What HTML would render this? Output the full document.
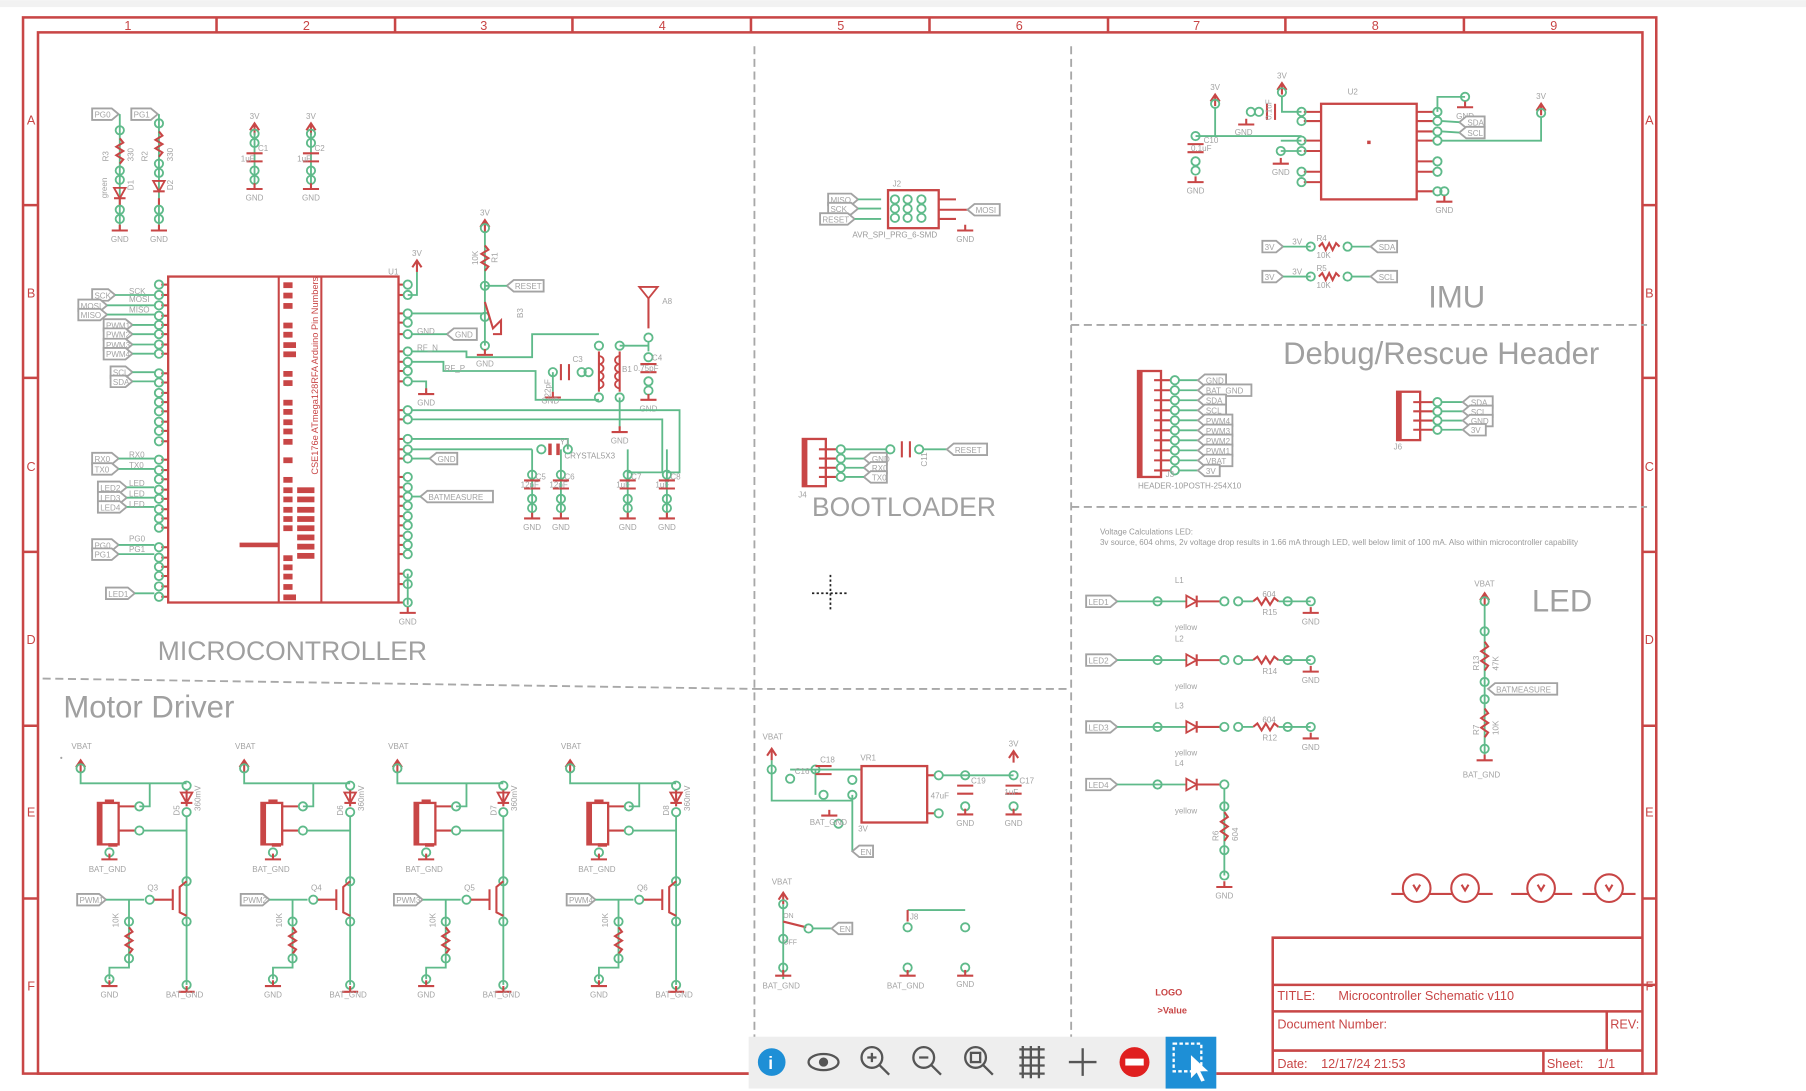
<!DOCTYPE html>
<html><head><meta charset="utf-8"><style>
html,body{margin:0;padding:0;background:#fff;overflow:hidden}
svg{display:block}
text{font-family:"Liberation Sans",sans-serif}
.g{fill:#9a9a9a;font-size:7px}
.r{fill:#c84646}
</style></head><body>
<svg id="s" width="1806" height="1091" viewBox="0 0 1568 947" xmlns="http://www.w3.org/2000/svg">
<rect x="0" y="0" width="1568" height="6" fill="#f2f2f2"/>
<g fill="none" stroke="#c84646" stroke-width="2.2">
<rect x="20" y="15" width="1418" height="917"/>
<rect x="33" y="28" width="1393" height="904"/>
<path d="M188 15V28M343 15V28M497 15V28M652 15V28M807 15V28M962 15V28M1116 15V28M1271 15V28"/>
<path d="M20 178H33M20 328H33M20 479H33M20 630H33M20 780H33M1426 178H1438M1426 328H1438M1426 479H1438M1426 630H1438M1426 780H1438"/>
<path d="M1105 932V814H1426M1105 855H1438M1105 878H1426M1105 912H1426M1395 878V912M1340 912V932"/>
</g>
<g class="r" font-size="11" text-anchor="middle">
<text x="111" y="26">1</text><text x="266" y="26">2</text><text x="420" y="26">3</text><text x="575" y="26">4</text><text x="730" y="26">5</text><text x="885" y="26">6</text><text x="1039" y="26">7</text><text x="1194" y="26">8</text><text x="1349" y="26">9</text>
<text x="27" y="108">A</text><text x="27" y="258">B</text><text x="27" y="409">C</text><text x="27" y="559">D</text><text x="27" y="709">E</text><text x="27" y="860">F</text>
<text x="1432" y="108">A</text><text x="1432" y="258">B</text><text x="1432" y="409">C</text><text x="1432" y="559">D</text><text x="1432" y="709">E</text><text x="1432" y="860">F</text>
</g>
<g class="r" font-size="11">
<text x="1109" y="868">TITLE:</text><text x="1162" y="868">Microcontroller Schematic v110</text>
<text x="1109" y="893">Document Number:</text><text x="1398" y="893">REV:</text>
<text x="1109" y="927">Date:</text><text x="1147" y="927">12/17/24 21:53</text>
<text x="1343" y="927">Sheet:</text><text x="1387" y="927">1/1</text>
<text x="1003" y="864" font-size="8" font-weight="bold">LOGO</text><text x="1005" y="880" font-size="8" font-weight="bold">&gt;Value</text>
</g>
<g stroke="#a8a8a8" stroke-width="1.6" stroke-dasharray="7,4" fill="none">
<path d="M655 40V935M930 40V935M37 589L655 598M655 598H930M930 282H1430M930 440H1430"/>
</g>
<g fill="#a0a0a0" font-size="23">
<text x="137" y="573">MICROCONTROLLER</text>
<text x="55" y="623" font-size="27">Motor Driver</text>
<text x="705" y="448">BOOTLOADER</text>
<text x="1240" y="267" font-size="27">IMU</text>
<text x="1114" y="316" font-size="27">Debug/Rescue Header</text>
<text x="1330" y="531" font-size="27">LED</text>
</g>
<g class="g">
<text x="955" y="464">Voltage Calculations LED:</text>
<text x="955" y="473">3v source, 604 ohms, 2v voltage drop results in 1.66 mA through LED, well below limit of 100 mA. Also within microcontroller capability</text>
<text x="740" y="206">AVR_SPI_PRG_6-SMD</text>
<text x="988" y="424">HEADER-10POSTH-254X10</text>
<text x="490" y="398">CRYSTAL5X3</text>
</g>
<text x="276" y="412" class="r" font-size="8" transform="rotate(-90 276 412)">CSE176e ATmega128RFA Arduino Pin Numbers</text>
<g id="dyn"></g>
<rect x="650" y="900" width="406" height="45" fill="#eeeeee"/>
<rect x="1012" y="900" width="44" height="45" fill="#1e8fd6"/>
<circle cx="670" cy="922" r="12" fill="#1e8fd6"/><text x="667" y="928" fill="#fff" font-size="15" font-weight="bold">i</text>
<ellipse cx="715" cy="922" rx="13" ry="7" fill="none" stroke="#555" stroke-width="2"/><circle cx="715" cy="922" r="4" fill="#555"/>
<g fill="none" stroke="#555" stroke-width="2">
<circle cx="757" cy="918" r="9"/><path d="M763 924l9 9M753 918h8M757 914v8"/>
<circle cx="802" cy="918" r="9"/><path d="M808 924l9 9M798 918h8"/>
<circle cx="847" cy="918" r="9"/><path d="M853 924l9 9"/><rect x="843" y="914" width="8" height="8"/>
<path d="M885 911h22M885 918h22M885 925h22M885 932h22M888 908v28M895 908v28M902 908v28"/>
<path d="M940 910v24M928 922h24"/>
<rect x="1019" y="906" width="24" height="24" stroke="#fff" stroke-dasharray="3,2"/>
</g>
<circle cx="985" cy="922" r="13" fill="#e02020"/><rect x="977" y="919" width="16" height="6" fill="#fff"/>
<path d="M1034 916l0 20 5-5 4 8 3-1-4-8 7 0z" fill="#fff"/>
<g stroke="#222" stroke-width="1.5" stroke-dasharray="2,2"><path d="M705 515h32M721 499v32"/></g>
</svg>
<script>
var o=[];
var G='#5fba8a',RD='#c84646',GR='#a3a3a3';
function W(p){o.push('<polyline points="'+p+'" fill="none" stroke="'+G+'" stroke-width="1.6"/>')}
function Rl(p,w){o.push('<polyline points="'+p+'" fill="none" stroke="'+RD+'" stroke-width="'+(w||1.8)+'"/>')}
function P(x,y){o.push('<circle cx="'+x+'" cy="'+y+'" r="3.6" fill="none" stroke="'+G+'" stroke-width="1.6"/>')}
function PP(x,y){P(x,y-4);P(x,y+4)}
function T(x,y,t,s,c,a){o.push('<text x="'+x+'" y="'+y+'" font-size="'+(s||7)+'" fill="'+(c||GR)+'"'+(a?' text-anchor="'+a+'"':'')+'>'+t+'</text>')}
function TR(x,y,t){o.push('<text x="'+x+'" y="'+y+'" font-size="7" fill="'+GR+'" transform="rotate(-90 '+x+' '+y+')">'+t+'</text>')}
function gnd(x,y,l){Rl((x-7)+','+y+' '+(x+7)+','+y);Rl(x+','+(y-5)+' '+x+','+y);if(l!==0)T(x,y+10,l||'GND',7,GR,'middle')}
function up(x,y,l){o.push('<path d="M'+(x-4)+' '+(y+6)+'L'+x+' '+y+'L'+(x+4)+' '+(y+6)+'" fill="none" stroke="'+RD+'" stroke-width="1.8"/>');Rl(x+','+y+' '+x+','+(y+10));if(l===undefined)l='3V';if(l)T(x,y-4,l,7,GR,'middle')}
function tag(x,y,w,t,d){var h=5;var p=d=='l'?[(x+6)+','+(y-h),(x+w)+','+(y-h),(x+w)+','+(y+h),(x+6)+','+(y+h),x+','+y]:[x+','+(y-h),(x+w-6)+','+(y-h),(x+w)+','+y,(x+w-6)+','+(y+h),x+','+(y+h)];o.push('<polygon points="'+p.join(' ')+'" fill="#fff" stroke="'+GR+'" stroke-width="1.6"/>');T(x+(d=='l'?7:2),y+3,t,7)}
function resV(x,y1,y2){var s=x+','+y1,n=6,d=(y2-y1)/n;for(var i=1;i<n;i++)s+=' '+(x+(i%2?3:-3))+','+(y1+d*i);s+=' '+x+','+y2;Rl(s)}
function resH(x1,x2,y){var s=x1+','+y,n=6,d=(x2-x1)/n;for(var i=1;i<n;i++)s+=' '+(x1+d*i)+','+(y+(i%2?-3:3));s+=' '+x2+','+y;Rl(s)}
function capV(x,y){Rl((x-7)+','+y+' '+(x+7)+','+y);Rl((x-7)+','+(y+7)+' '+(x+7)+','+(y+7))}
function capH(x,y){Rl(x+','+(y-7)+' '+x+','+(y+7));Rl((x+7)+','+(y-7)+' '+(x+7)+','+(y+7))}
function dioDown(x,y){o.push('<path d="M'+(x-5)+' '+y+'H'+(x+5)+'L'+x+' '+(y+9)+'Z" fill="none" stroke="'+RD+'" stroke-width="1.6"/>');Rl((x-5)+','+(y+9)+' '+(x+5)+','+(y+9))}
function dioR(x,y){o.push('<path d="M'+x+' '+(y-5)+'V'+(y+5)+'L'+(x+9)+' '+y+'Z" fill="none" stroke="'+RD+'" stroke-width="1.6"/>');Rl((x+9)+','+(y-5)+' '+(x+9)+','+(y+5))}
function rect(x,y,w,h,sw){o.push('<rect x="'+x+'" y="'+y+'" width="'+w+'" height="'+h+'" fill="none" stroke="'+RD+'" stroke-width="'+(sw||2)+'"/>')}
function fr(x,y,w,h){o.push('<rect x="'+x+'" y="'+y+'" width="'+w+'" height="'+h+'" fill="'+RD+'"/>')}

tag(80,99,23,'PG0');tag(114,99,23,'PG1');
[[104,'R3','D1'],[138,'R2','D2']].forEach(function(a,i){var x=a[0];W(x+',99 '+x+',200');P(x,113-(i?6:0));resV(x,120-(i?6:0),142-(i?6:0));P(x,148-(i?6:0));P(x,156-(i?6:0));dioDown(x,163-(i?6:0));Rl(x+',172 '+x+',178');PP(x,186);gnd(x,200);TR(x-10,140,a[1]);TR(x+12,140,'330');TR(x+12,165,a[2]);});
TR(93,172,'green');
[[221,'C1'],[270,'C2']].forEach(function(a){var x=a[0];up(x,107);W(x+',115 '+x+',160');PP(x,120);capV(x,133);PP(x,152);gnd(x,164);T(x+3,131,a[1]);T(x-12,140,'1uF')});

rect(146,240,200,283);Rl('242,240 242,523');Rl('279,240 279,523');fr(208,471,34,4);
var L=[247,256,265,274,282,290,299,307,324,332,341,349,357,366,374,383,399,408,416,425,433,442,450,458,475,484,492,500,509,518];
L.forEach(function(y){Rl('140,'+y+' 146,'+y);P(138,y)});
L.forEach(function(y,i){var w=(i==6||i==7||i==29)?11:8;if(i%7!=3)fr(246,y-2,w,5)});
[425,433,442,450,458,466,474,482].forEach(function(y){fr(258,y-2,15,5)});
var Rp=[247,256,272,280,290,305,314,322,331,356,364,381,390,398,414,423,431,439,448,456,465,473,481,498,507,523];
Rp.forEach(function(y){Rl('346,'+y+' 351,'+y);P(354,y)});
T(337,238,'U1');up(362,226);W('362,236 362,256 354,256');
[['SCK',256,80,20],['MOSI',265,68,25],['MISO',273,68,25],['PWM1',282,90,25],['PWM2',290,90,25],['PWM3',299,90,25],['PWM4',307,90,25],['SCL',323,96,19],['SDA',331,96,19],['RX0',398,80,23],['TX0',407,80,23],['LED2',423,85,25],['LED3',432,85,25],['LED4',440,85,25],['PG0',473,80,23],['PG1',481,80,23],['LED1',515,92,25]].forEach(function(a){tag(a[2],a[1],a[3],a[0]);W((a[2]+a[3])+','+a[1]+' 134,'+a[1]);});
[['SCK',256],['MOSI',263],['MISO',272],['RX0',398],['TX0',407],['LED',423],['LED',432],['LED',441],['PG0',471],['PG1',480]].forEach(function(a){T(112,a[1]-1,a[0])});
up(421,191);W('421,201 421,300');P(421,198);resV(421,213,235);P(421,248);tag(440,248,32,'RESET','l');W('421,248 440,248');P(421,275);Rl('421,262 428,285 435,278 435,290 428,290');P(421,300);gnd(421,308);TR(415,230,'10K');TR(432,228,'R1');TR(454,276,'B3');
W('358,272 421,272');tag(388,290,26,'GND','l');W('358,290 388,290');T(362,290,'GND');
W('358,305 405,305 405,310 462,310 462,290 520,290');T(362,304,'RF_N');
W('358,314 385,314 385,322 465,322 465,347 520,347');T(386,322,'RF_P');
W('358,331 370,331 370,342');gnd(370,342);
P(520,300);P(520,345);Rl('520,305 520,340');P(538,300);P(538,345);Rl('538,305 538,340');
for(var k=0;k<4;k++){o.push('<path d="M520 '+(309+k*7)+'a4 3.5 0 0 1 0 7M538 '+(309+k*7)+'a4 3.5 0 0 0 0 7" fill="none" stroke="'+RD+'" stroke-width="1.6"/>')}
W('538,300 563,300');P(480,323);capH(487,323);P(505,323);P(511,323);W('480,323 480,340');gnd(480,345,0);T(470,350,'GND');TR(478,345,'22pF');T(497,314,'C3');
W('538,345 538,372');gnd(538,375);T(540,323,'B1');
o.push('<path d="M555 249H571L563 259Z" fill="none" stroke="'+RD+'" stroke-width="1.6"/>');Rl('563,259 563,285');T(575,264,'A8');P(563,293);W('563,297 563,305');P(563,310);capV(563,316);PP(563,335);gnd(563,347);T(566,313,'C4');T(550,322,'0.75pF');
W('358,356 590,356 590,410 579,410');W('358,364 575,364 575,410 545,410');
W('358,381 493,381 493,390');W('358,390 462,390');P(470,390);P(493,390);fr(476,385,3,10);fr(483,385,3,10);T(486,386,'Y1');
[[462,'C5','12pF'],[487,'C6','12pF'],[545,'C7','1uF'],[579,'C8','1uF']].forEach(function(a){var x=a[0];W(x+',390 '+x+',450');P(x,412);capV(x,417);PP(x,437);gnd(x,450);T(x+3,416,a[1]);T(x-10,423,a[2])});
tag(373,398,24,'GND','l');W('358,398 373,398');tag(365,431,63,'BATMEASURE','l');W('358,431 365,431');
W('354,498 354,525');gnd(354,532);

[0,142,275,425].forEach(function(dx,i){var x=70+dx,dxx=162+dx;T(x-8,650,'VBAT');up(x,660,'');P(x,667);W(x+',670 '+x+',680 '+dxx+',680');W((130+dx)+',680 '+(130+dx)+',700 '+(121+dx)+',700');P(dxx,682);dioDown(dxx,688);Rl(dxx+',686 '+dxx+',700');P(dxx,705);TR(dxx-6,708,'D'+(5+i));TR(dxx+12,704,'360mV');
rect(85+dx,697,18,36);fr(85+dx,697,4,36);fr(91+dx,694,8,3);fr(94+dx,732,8,3);Rl((103+dx)+',700 '+(117+dx)+',700');Rl((103+dx)+',721 '+(117+dx)+',721');P(121+dx,700);P(121+dx,721);W((125+dx)+',721 '+dxx+',721');P(95+dx,740);gnd(95+dx,746,0);T(77+dx,757,'BAT_GND');
W(dxx+',709 '+dxx+',855');P(dxx,765);Rl((dxx-12)+',772 '+(dxx-12)+',790');Rl(dxx+',765 '+(dxx-6)+',770 '+(dxx-6)+',792 '+dxx+',795');P(dxx,800);P(dxx,855);gnd(dxx,861,0);T(dxx-18,866,'BAT_GND');
tag(67+dx,781,25,'PWM'+(i+1));W((92+dx)+','+781+' '+(125+dx)+',781');P(130+dx,781);Rl((134+dx)+',781 '+(dxx-12)+',781');T(128+dx,773,'Q'+(3+i));
W((112+dx)+',781 '+(112+dx)+',840 '+(95+dx)+',840 '+(95+dx)+',850');P(112+dx,800);resV(112+dx,805,828);P(112+dx,832);TR(103+dx,805,'10K');P(95+dx,850);gnd(95+dx,856,0);T(95+dx,866,'GND',7,GR,'middle');});
T(52,660,'•');

rect(697,381,20,41);fr(697,381,4,41);[390,398,406,414].forEach(function(y){Rl('711,'+y+' 726,'+y);P(730,y)});
tag(750,398,20,'GND','l');tag(750,406,20,'RX0','l');tag(750,414,20,'TX0','l');W('734,398 750,398');W('734,406 750,406');W('734,414 750,414');W('734,390 770,390');P(773,390);capH(783,390);P(798,390);W('802,390 822,390');tag(822,390,35,'RESET','l');TR(805,405,'C11');T(693,432,'J4');
rect(771,165,44,33);[173,181,189].forEach(function(y){P(777,y);P(788,y);P(800,y)});T(775,162,'J2');tag(719,173,26,'MISO');tag(719,181,26,'SCK');tag(712,190,30,'RESET');W('745,173 765,173');W('745,181 765,181');W('742,190 765,190');Rl('815,173 830,173');Rl('815,182 840,182');Rl('815,190 830,190');tag(840,182,28,'MOSI','l');gnd(838,200);

T(662,642,'VBAT');up(670,650,'');W('670,660 670,695 740,695');P(670,668);P(686,676);P(708,668);W('686,668 748,668');W('708,668 708,690');capV(715,665);T(712,662,'C18');P(715,690);T(690,672,'C16');P(740,677);P(740,690);P(728,715);gnd(720,708,0);T(703,716,'BAT_GND');
rect(748,665,57,49);Rl('805,673 812,673');Rl('805,706 812,706');P(815,673);P(815,706);T(747,660,'VR1');W('819,673 880,673');W('740,690 740,739');tag(740,739,18,'EN','l');T(745,722,'3V');
P(838,673);capV(838,682);P(838,700);gnd(838,707);T(808,693,'47uF');T(843,680,'C19');
up(880,652);P(880,673);capV(880,682);P(880,700);gnd(880,707);T(885,680,'C17');T(872,690,'1uF');
T(670,768,'VBAT');up(680,775,'');W('680,785 680,850');P(680,785);Rl('680,800 700,805');P(702,806);W('706,806 722,806');tag(722,806,18,'EN','l');P(680,815);P(680,840);gnd(680,847,0);T(662,858,'BAT_GND');T(680,797,'ON',6);T(680,820,'OFF',6);
W('788,790 838,790');P(788,805);P(788,840);P(838,805);P(838,840);Rl('788,790 788,800');T(790,798,'J8');gnd(788,847,0);T(770,858,'BAT_GND');gnd(838,847);

rect(1147,90,83,83);fr(1187,122,3,3);T(1170,82,'U2');
[97,105,122,131,149,158].forEach(function(y){Rl('1132,'+y+' 1147,'+y);P(1130,y)});
[97,105,114,122,140,149,166].forEach(function(y){Rl('1230,'+y+' 1245,'+y);P(1248,y)});
up(1113,72);P(1113,80);W('1113,84 1113,97 1130,97');capH(1100,97);P(1093,97);P(1086,97);gnd(1082,108,0);T(1072,117,'GND');TR(1104,104,'0.1uF');
W('1038,118 1130,118');up(1055,82);P(1055,90);W('1055,94 1055,118');P(1038,118);capV(1038,125);P(1038,140);P(1038,148);gnd(1038,158);T(1045,124,'C10');T(1034,131,'0.1uF');
W('1112,131 1130,131');P(1112,131);gnd(1112,142);W('1130,122 1112,122');
W('1248,97 1248,84 1272,84');P(1272,84);gnd(1272,93);tag(1267,106,22,'SDA','l');tag(1267,115,22,'SCL','l');W('1252,105 1267,106');W('1252,114 1267,115');
up(1338,90);P(1338,98);W('1252,122 1338,122 1338,102');P(1254,166);gnd(1254,175);
[[214,'SDA','R4'],[240,'SCL','R5']].forEach(function(a){var y=a[0];tag(1096,y,18,'3V');W('1114,'+y+' 1138,'+y);P(1138,y);resH(1145,1163,y);P(1170,y);W('1174,'+y+' 1190,'+y);tag(1190,y,23,a[1],'l');T(1122,y-2,'3V');T(1143,y-5,a[2]);T(1143,y+10,'10K')});

rect(988,322,20,92);fr(988,322,4,92);
var dl=['GND','BAT_GND','SDA','SCL','PWM4','PWM3','PWM2','PWM1','VBAT','3V'];
dl.forEach(function(t,i){var y=330+i*8.7;Rl('1002,'+y+' 1016,'+y);P(1020,y);W('1024,'+y+' 1040,'+y);tag(1040,y,t.length*5.5+8,t,'l')});T(1012,414,'J3');
rect(1213,340,20,42);fr(1213,340,4,42);
['SDA','SCL','GND','3V'].forEach(function(t,i){var y=349+i*8;Rl('1227,'+y+' 1244,'+y);P(1248,y);W('1252,'+y+' 1270,'+y);tag(1270,y,t.length*6+8,t,'l')});T(1210,390,'J6');

[[522,'LED1','R15','604'],[573,'LED2','R14',''],[631,'LED3','R12','604'],[681,'LED4','','']].forEach(function(a,i){var y=a[0];tag(943,y,27,a[1]);W('970,'+y+' 1030,'+y);P(1005,y);dioR(1030,y);Rl('1039,'+y+' 1059,'+y);P(1063,y);if(i<3){P(1075,y);resH(1088,1110,y);W('1079,'+y+' 1088,'+y);W('1110,'+y+' 1138,'+y);P(1118,y);P(1138,y);gnd(1138,y+10,0);T(1138,y+20,'GND',7,GR,'middle');T(1096,y-4,a[3]);T(1096,y+12,a[2])}T(1020,y-16,'L'+(i+1));T(1020,y+25,'yellow')});
W('1063,685 1063,760');resV(1063,705,730);P(1063,700);P(1063,738);P(1063,760);gnd(1063,770);TR(1058,730,'R6');TR(1075,730,'604');
T(1280,509,'VBAT');up(1289,515,'');W('1289,525 1289,655');P(1289,522);P(1289,548);resV(1289,557,582);P(1289,592);tag(1292,598,60,'BATMEASURE','l');P(1289,607);resV(1289,615,640);P(1289,650);gnd(1289,660,0);T(1270,675,'BAT_GND');TR(1284,582,'R13');TR(1301,582,'47K');TR(1284,638,'R7');TR(1301,638,'10K');
Rl('1208,776 1296,776');Rl('1312,776 1365,776');Rl('1374,776 1420,776');
[1230,1272,1338,1397].forEach(function(x){o.push('<circle cx="'+x+'" cy="771" r="12" fill="#fff" stroke="'+RD+'" stroke-width="1.8"/>');Rl((x-3)+',768 '+x+',773 '+(x+3)+',768');});
document.getElementById('dyn').innerHTML=o.join('');
</script>
</body></html>
